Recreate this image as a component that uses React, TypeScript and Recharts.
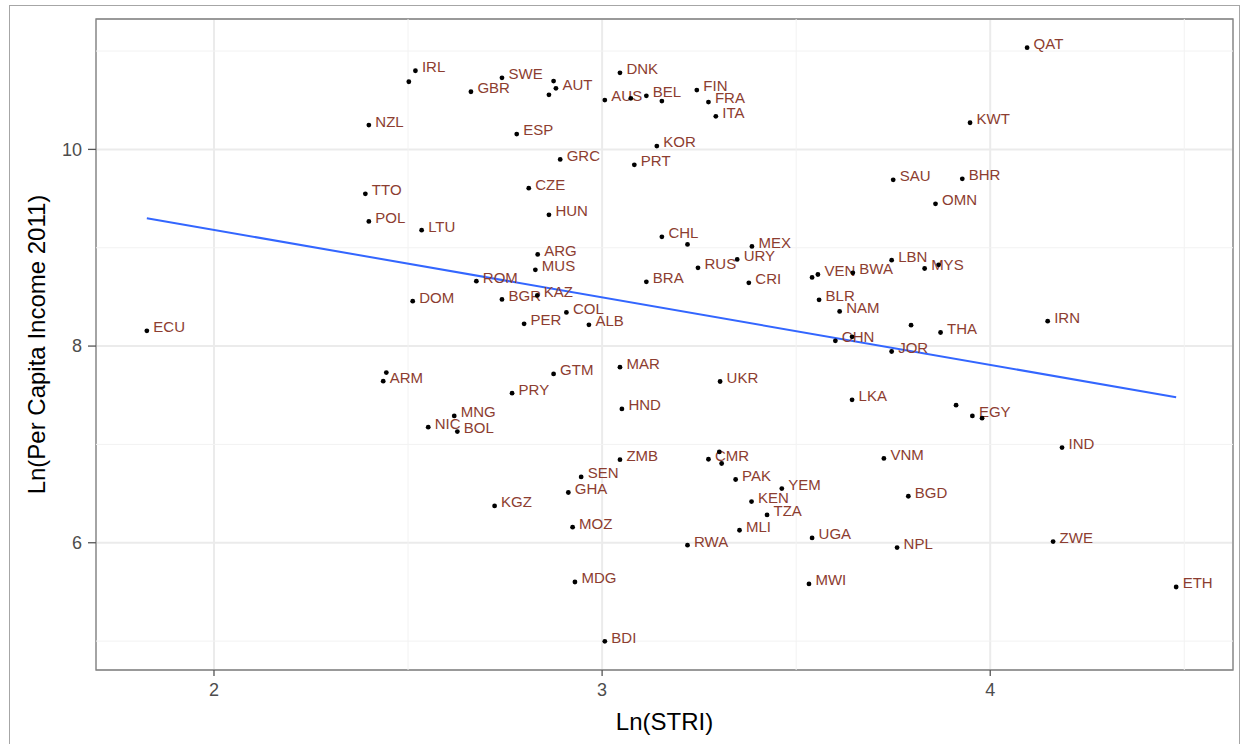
import React from 'react'
import {
  ScatterChart,
  Scatter,
  XAxis,
  YAxis,
  CartesianGrid,
  ReferenceLine,
  ReferenceArea,
} from 'recharts'

// country codes, "" = point drawn without a label
const codes = [
  'IRL', 'GBR', 'SWE', 'AUT', 'NZL', 'ESP', 'GRC', 'CZE', 'HUN', 'TTO',
  'POL', 'LTU', 'DNK', 'AUS', 'BEL', 'FIN', 'FRA', 'ITA', 'KOR', 'PRT',
  'CHL', 'QAT', 'KWT', 'SAU', 'BHR', 'OMN', 'ECU', 'ARM', 'DOM', 'ROM',
  'BGR', 'KAZ', 'ARG', 'MUS', 'PER', 'COL', 'ALB', 'BRA', 'RUS', 'URY',
  'MEX', 'CRI', 'GTM', 'PRY', 'MNG', 'NIC', 'BOL', 'MAR', 'HND', 'UKR',
  'ZMB', 'CMR', 'PAK', 'YEM', 'KEN', 'TZA', 'MLI', 'RWA', 'SEN', 'GHA',
  'KGZ', 'MOZ', 'MDG', 'BDI', 'VEN', 'BWA', 'LBN', 'MYS', 'BLR', 'NAM',
  'THA', 'IRN', 'CHN', 'JOR', 'LKA', 'EGY', 'IND', 'VNM', 'BGD', 'UGA',
  'NPL', 'MWI', 'ZWE', 'ETH',
  '', '', '', '', '', '', '', '', '', '', '', '', '', '', '',
]

const lnStri = [
  2.519, 2.662, 2.742, 2.881, 2.399, 2.78, 2.892, 2.811, 2.863, 2.39,
  2.399, 2.535, 3.046, 3.007, 3.114, 3.244, 3.274, 3.293, 3.141, 3.083,
  3.154, 4.095, 3.948, 3.75, 3.928, 3.859, 1.827, 2.436, 2.512, 2.676,
  2.742, 2.833, 2.834, 2.828, 2.799, 2.908, 2.966, 3.114, 3.247, 3.348,
  3.386, 3.378, 2.875, 2.768, 2.619, 2.552, 2.627, 3.046, 3.051, 3.304,
  3.046, 3.274, 3.344, 3.463, 3.385, 3.425, 3.354, 3.22, 2.946, 2.913,
  2.723, 2.924, 2.93, 3.007, 3.556, 3.646, 3.746, 3.831, 3.559, 3.612,
  3.872, 4.148, 3.601, 3.746, 3.644, 3.954, 4.185, 3.726, 3.789, 3.541,
  3.76, 3.533, 4.162, 4.479,
  2.502, 2.875, 2.863, 3.074, 3.154, 2.444, 3.22, 3.302, 3.308, 3.541,
  3.867, 3.796, 3.644, 3.912, 3.979,
]

const lnIncome = [
  10.8, 10.586, 10.728, 10.621, 10.247, 10.156, 9.898, 9.606, 9.335, 9.548,
  9.268, 9.179, 10.779, 10.502, 10.545, 10.603, 10.481, 10.336, 10.034, 9.843,
  9.111, 11.034, 10.271, 9.691, 9.701, 9.447, 8.155, 7.643, 8.457, 8.66,
  8.474, 8.515, 8.932, 8.775, 8.226, 8.342, 8.216, 8.653, 8.796, 8.881,
  9.013, 8.643, 7.717, 7.521, 7.29, 7.175, 7.131, 7.785, 7.361, 7.64,
  6.845, 6.849, 6.643, 6.551, 6.419, 6.283, 6.127, 5.975, 6.669, 6.511,
  6.374, 6.158, 5.601, 4.998, 8.728, 8.745, 8.874, 8.789, 8.47, 8.352,
  8.138, 8.253, 8.053, 7.945, 7.453, 7.29, 6.968, 6.857, 6.473, 6.049,
  5.951, 5.581, 6.012, 5.55,
  10.688, 10.695, 10.555, 10.519, 10.491, 7.731, 9.034, 6.924, 6.806, 8.698,
  8.826, 8.213, 8.094, 7.399, 7.267,
]

// ends of the fitted regression line
const fitLine = [
  { x: 1.827, y: 9.3 },
  { x: 4.479, y: 7.48 },
]

const xTicks = [2, 3, 4]
const yTicks = [6, 8, 10]
const xMinor = [2.5, 3.5, 4.5]
const yMinor = [5, 7, 9, 11]
const xDomain: [number, number] = [1.696, 4.6255]
const yDomain: [number, number] = [4.706, 11.326]

const FONT = '"Liberation Sans", Arial, Helvetica, sans-serif'
const LABEL_COLOR = '#8c3d30'

const points = codes.map((code, i) => ({ x: lnStri[i], y: lnIncome[i], code }))

function PointWithLabel(props: any) {
  const { cx, cy, payload } = props
  if (cx == null || cy == null) return null
  return (
    <g>
      <circle cx={cx} cy={cy} r={2.4} fill="#000" />
      {payload.code ? (
        <text
          x={cx + 6.5}
          y={cy + 1.4}
          fontSize={15}
          fontFamily={FONT}
          fill={LABEL_COLOR}
        >
          {payload.code}
        </text>
      ) : null}
    </g>
  )
}

function XTitle(props: any) {
  const { viewBox } = props
  const cx = viewBox.x + viewBox.width / 2
  return (
    <text x={cx} y={730} textAnchor="middle" fontSize={24} fontFamily={FONT} fill="#000">
      Ln(STRI)
    </text>
  )
}

function YTitle(props: any) {
  const { viewBox } = props
  const cy = viewBox.y + viewBox.height / 2
  const x = 45
  return (
    <text
      x={x}
      y={cy}
      transform={`rotate(-90, ${x}, ${cy})`}
      textAnchor="middle"
      fontSize={24}
      fontFamily={FONT}
      fill="#000"
    >
      Ln(Per Capita Income 2011)
    </text>
  )
}

export default function App() {
  return (
    <div style={{ position: 'relative', width: 1244, height: 744, background: '#fff' }}>
      <style>{'body{margin:0;overflow:hidden;background:#fff}'}</style>
      <div
        style={{
          position: 'absolute',
          left: 9,
          top: 5,
          width: 1231,
          height: 760,
          border: '1px solid #a6a6a6',
          boxSizing: 'border-box',
        }}
      />
      <div style={{ position: 'absolute', left: 0, top: 0 }}>
        <ScatterChart
          width={1244}
          height={744}
          margin={{ top: 19, right: 11, left: 0, bottom: 0 }}
        >
          <CartesianGrid stroke="#ebebeb" strokeWidth={2} />
          {xMinor.map((v) => (
            <ReferenceLine key={'xm' + v} x={v} stroke="#f2f2f2" strokeWidth={1} />
          ))}
          {yMinor.map((v) => (
            <ReferenceLine key={'ym' + v} y={v} stroke="#f2f2f2" strokeWidth={1} />
          ))}
          <XAxis
            type="number"
            dataKey="x"
            domain={xDomain}
            ticks={xTicks}
            allowDataOverflow
            height={74}
            tickSize={6}
            tickMargin={7}
            axisLine={false}
            tickLine={{ stroke: '#555', strokeWidth: 1.3 }}
            tick={{ fontSize: 18, fill: '#4d4d4d', fontFamily: FONT }}
            label={{ content: XTitle }}
          />
          <YAxis
            type="number"
            dataKey="y"
            domain={yDomain}
            ticks={yTicks}
            allowDataOverflow
            width={96}
            tickSize={8}
            tickMargin={6}
            axisLine={false}
            tickLine={{ stroke: '#555', strokeWidth: 1.3 }}
            tick={{ fontSize: 18, fill: '#4d4d4d', fontFamily: FONT }}
            label={{ content: YTitle }}
          />
          <ReferenceLine
            segment={fitLine}
            stroke="#3366ff"
            strokeWidth={2}
            ifOverflow="visible"
          />
          <Scatter
            data={points}
            shape={PointWithLabel}
            isAnimationActive={false}
          />
          <ReferenceArea
            x1={xDomain[0]}
            x2={xDomain[1]}
            y1={yDomain[0]}
            y2={yDomain[1]}
            fill="none"
            fillOpacity={0}
            stroke="#7f7f7f"
            strokeWidth={1.3}
            ifOverflow="visible"
          />
        </ScatterChart>
      </div>
    </div>
  )
}
